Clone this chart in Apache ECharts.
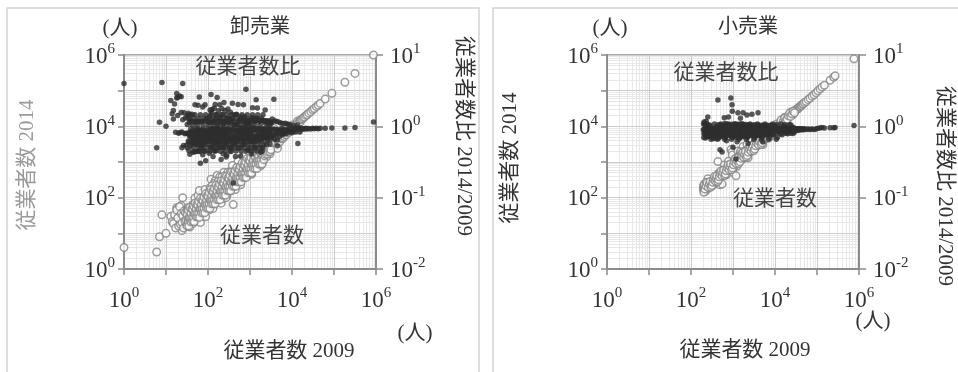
<!DOCTYPE html>
<html>
<head>
<meta charset="utf-8">
<script src="https://cdn.jsdelivr.net/npm/echarts@6/dist/echarts.min.js"></script>
<style>
html,body{margin:0;padding:0;background:#fff;}
#chart{width:958px;height:372px;}
</style>
</head>
<body>
<div id="chart"></div>
<script>
// Employees per establishment group: [2009, 2014]
const wholesale = [
  [1,4],[6,3],[7,8],[8,33],[10,10],[24,12],[25,100],[15,25],[18,52],[19,48],[23,60],[49,98],
  [13,30],[14,21],[15,19],[16,33],[17,14],[18,45],[19,27],[20,16],
  [21,56],[22,18],[23,36],[24,20],[25,31],[26,14],[27,42],[28,22],[29,38],[30,24],[31,17],[32,45],
  [33,26],[34,52],[35,21],[36,30],[37,15],[38,47],[39,29],[40,33],[41,24],[42,62],[43,36],[44,19],
  [45,40],[46,31],[47,27],[48,55],[49,38],[50,22],[36,41],[44,35],
  [51,43],[52,30],[53,61],[54,38],[55,47],[56,25],[57,52],[58,41],[59,33],[60,70],[61,45],[62,28],
  [63,55],[64,48],[65,39],[66,20],[67,58],[68,44],[69,35],[70,82],[72,51],[73,63],[74,40],[75,30],
  [76,68],[78,57],[79,45],[80,95],[81,62],[83,50],[84,38],[85,73],[87,66],[88,29],[90,78],[91,55],
  [93,120],[95,70],[97,60],[99,84],[58,115],[75,140],[62,160],[85,170],
  [101,85],[101,62],[104,120],[104,71],[107,88],[107,45],[110,96],[110,150],[113,79],[113,104],
  [116,58],[116,131],[119,92],[119,74],[122,108],[122,190],[125,86],[125,115],[128,68],[128,102],
  [131,121],[131,95],[135,154],[135,82],[138,110],[138,62],[142,127],[142,98],[146,180],[146,116],
  [150,131],[150,88],[154,70],[154,140],[158,122],[158,230],[162,149],[162,105],[167,128],[167,170],
  [171,96],[171,145],[176,210],[176,133],[181,158],[181,112],[186,140],[186,95],[191,172],[191,255],
  [196,150],[196,118],[202,181],[202,136],[208,240],[208,165],[214,190],[214,110],[220,176],[220,320],
  [226,205],[226,148],[232,184],[232,250],[239,162],[239,121],[246,215],[246,290],[253,198],[253,145],
  [260,236],[260,178],[268,310],[268,210],[276,243],[276,160],[284,220],[284,370],[292,258],[292,185],
  [300,276],[300,204],[310,265],[310,350],
  [118,330],[165,420],[240,520],[132,50],[205,70],[280,110],[148,300],[230,95],[190,380],[270,100],
  [112,190],[140,250],[175,290],[215,380],[255,420],[298,520],[125,215],
  [320,410],[320,205],[330,280],[330,165],[342,300],[342,540],[355,250],[355,420],[368,330],[368,190],
  [381,290],[381,480],[395,350],[395,235],[410,430],[410,265],[425,300],[425,620],[441,392],[441,250],
  [457,480],[457,340],[474,410],[474,700],[491,300],[491,520],[509,440],[509,350],[528,620],[528,260],
  [547,470],[547,400],[567,700],[567,470],[588,380],[588,560],[610,500],[610,830],[632,440],[632,600],
  [656,560],[656,360],[680,790],[680,520],[705,630],[705,450],[731,1000],[731,700],[758,600],[758,430],
  [786,720],[786,960],[815,640],[815,860],[845,720],[845,560],[876,950],[876,760],[908,700],[908,1100],
  [942,850],[942,640],[977,1050],[977,780],
  [800,2650],[400,64],[350,155],[450,170],[600,230],[520,1050],[700,1400],[380,800],[900,420],
  [1010,900],[1010,620],[1050,1300],[1050,820],[1090,990],[1090,700],[1140,1500],[1140,1000],
  [1190,860],[1190,1150],[1240,1450],[1240,750],[1290,1150],[1290,1650],[1350,980],[1350,1250],
  [1410,1700],[1410,880],[1470,1300],[1470,1080],[1530,1950],[1530,1400],[1600,1200],[1600,1050],
  [1670,1530],[1670,2000],[1740,1350],[1740,1600],[1820,2200],[1820,1200],[1900,1700],[1900,1500],
  [1980,2400],[1980,1800],[2070,1500],[2070,1900],[2160,2600],[2160,1650],[2250,2050],[2250,1800],
  [2350,2800],[2350,1700],[2450,2250],[2450,1950],[2560,2950],[2560,1850],[2670,2400],[2670,2150],
  [2790,3200],[2790,2100],[2910,2650],[2910,2300],[3040,3450],[3040,2350],
  [1300,650],[2000,1000],[1500,2700],[2500,1400],[3000,1700],[1100,450],[1800,780],[1400,3300],
  [1150,2100],[2300,3900],
  [3200,3600],[3200,2300],[3400,3000],[3400,4300],[3600,2700],[3600,3300],[3800,4500],[3800,2500],
  [4000,3650],[4000,3100],[4250,5000],[4250,3300],[4500,4050],[4500,2900],[4800,5500],[4800,4000],
  [5100,4500],[5100,3700],[5400,6000],[5400,4800],[5700,4500],[5700,5300],[6100,6700],[6100,4700],
  [6500,5800],[6500,5200],[6900,7600],[6900,5900],[7300,6500],[7300,5800],[7800,8400],[7800,6600],
  [8300,7600],[8300,6900],[8800,9300],[8800,7700],[9400,8500],[9400,7900],[3700,8900],[4500,2400],
  [10000,9300],[10000,8100],[10600,10900],[11300,9800],[12000,11200],[12000,10000],[12800,11900],
  [13600,12600],[13600,14200],[14500,13100],[15500,14300],[15500,12900],[16500,15600],[17600,16100],
  [18800,17400],[20000,18300],[21500,20200],[23000,21100],[25000,23400],[28000,25600],[31000,29100],
  [34000,31500],[38000,35600],[42000,39000],[13800,7900],
  [46800,44000],[61700,58000],[89000,84000],[182000,172000],[316000,305000],[870000,1000000],
  [32,16],[32,34],[34,21],[34,44],[35,16],[35,27],[37,26],[37,54],[39,21],[39,36],[41,27],[41,48],
  [43,22],[43,45],[45,28],[45,59],[47,21],[47,37],[49,34],[49,71],[52,29],[52,48],[54,36],[54,64],
  [57,29],[57,60],[60,37],[60,78],[63,28],[63,49],[66,46],[66,96],[69,38],[69,63],[72,48],[72,85],
  [76,38],[76,80],[80,50],[80,104],[84,38],[84,66],[88,62],[88,128],[92,51],[92,85],[96,64],[96,113],
  [101,51],[101,106],[106,66],[106,138],[111,50],[111,87],[117,82],[117,170],[122,67],[122,112],
  [128,86],[128,151],[134,67],[134,141],[141,87],[141,183],[148,67],[148,115],[155,109],[155,225],
  [162,89],[162,149],[170,114],[170,201],[178,89],[178,187],[187,116],[187,243],[196,88],[196,153],
  [206,144],[206,299],[216,119],[216,199],[226,151],[226,267],[237,119],[237,249],[249,154],[249,324],
  [261,117],[261,204],[274,192],[274,397],[287,158],[287,264],[301,202],[301,355],[316,158],[316,332],
  [331,205],[331,430],[347,156],[347,271],[364,255],[364,528],[382,210],[382,351],[401,269],[401,473],
  [420,210],[420,441],[441,273],[441,573],[462,208],[462,360],[485,340],[485,703],[509,280],[509,468],
  [534,358],[534,630],[560,280],[560,588],[587,364],[587,763],[616,277],[616,480],[646,452],[646,937],
  [678,373],[678,624],[711,476],[711,839],[746,373],[746,783],[782,485],[782,1017],[820,369],[820,640],
  [860,602],[860,1247],[902,496],[902,830],[946,634],[946,1116],[992,496],[992,1042],[1040,645],[1040,1352],
  [1090,491],[1090,850],[1150,805],[1150,1668],[1200,660],[1200,1104],[1260,844],[1260,1487],
  [1320,660],[1320,1386],[1390,862],[1390,1807],[1460,657],[1460,1139],[1530,1071],[1530,2219],
  [1600,880],[1600,1472],[1680,1126],[1680,1982],[1760,880],[1760,1848],[1850,1147],[1850,2405],
  [1940,873],[1940,1513],[2040,1428],[2040,2958],[2140,1177],[2140,1969],[2240,1501],[2240,2643],
  [2350,1645],[2350,2585],[2470,1976],[2470,2964],[2590,1684],[2590,2461],[2720,1904],[2720,2992],
  [2850,2280],[2850,3420],[2990,1944],[2990,2841],[3140,2198],[3140,3454]
];

const retail = [
  [196,175],[199,215],[203,160],[207,190],[211,228],[215,178],[219,150],[224,205],[228,240],[233,196],
  [238,170],[243,222],[248,255],[254,215],[259,188],[265,240],[271,205],[277,290],[283,245],[289,210],
  [296,268],[303,230],[310,282],[317,245],[325,300],[333,262],[341,228],[350,318],[359,300],[368,272],
  [378,340],[388,305],[398,360],[204,235],[251,340],[229,270],
  [405,365],[415,300],[426,410],[437,350],[448,470],[460,395],[472,330],[484,440],[497,520],[510,400],
  [523,480],[537,395],[551,560],[565,470],[580,535],[595,430],[611,640],[627,540],[643,580],[660,480],
  [677,640],[695,560],[713,760],[732,650],[751,560],[771,700],[791,840],[812,680],[833,760],[855,640],
  [877,820],[900,760],[924,990],[948,830],[973,720],[420,385],[455,350],[500,445],[540,500],[590,520],
  [640,700],[700,620],[760,690],[820,700],[880,790],
  [437,1025],[490,230],[550,240],[890,2230],[950,1900],[960,1560],[1000,510],[1180,410],[1310,2030],
  [1740,2700],[2150,3100],[2290,1320],[3950,6100],[5150,3100],[2820,4150],[620,820],[780,1050],
  [1500,1950],[400,270],[700,440],[1250,760],
  [1010,900],[1040,760],[1070,1150],[1100,950],[1130,1040],[1165,820],[1200,1280],[1240,1050],
  [1280,1200],[1320,950],[1360,1450],[1400,1180],[1450,1380],[1500,1080],[1550,1680],[1600,1330],
  [1650,1560],[1700,1210],[1760,1870],[1820,1530],[1880,1790],[1940,1400],[2000,2120],[2070,1760],
  [2140,2010],[2210,1620],[2290,2410],[2370,2000],[2450,2300],[2530,1870],[2620,2740],[2710,2280],
  [2800,2620],[2900,2180],[3000,3120],[3100,2600],[1120,1010],[1580,1250],[1980,1640],[2400,2130],
  [2950,2570],[1300,1240],[1700,1500],[2150,1880],[1050,1000],[1420,1070],
  [3200,2900],[3300,2480],[3400,3580],[3500,3050],[3620,3420],[3740,2780],[3860,4000],[3990,3420],
  [4120,3880],[4260,3190],[4400,4560],[4550,3900],[4700,4400],[4860,3680],[5020,5200],[5190,4460],
  [5360,5000],[5540,4220],[5730,5920],[5920,5100],[6120,5700],[6330,4850],[6540,6750],[6760,5830],
  [6990,6500],[7230,5600],[7470,7700],[7720,6650],[7980,7400],[8250,6400],[8530,8750],[8820,7600],
  [9120,8450],[9430,7350],[9750,9950],[3450,3000],[4700,4150],[6000,5300],[7500,6600],[9000,8000],
  [10100,9000],[10500,9700],[10900,9200],[11300,10400],[11800,10100],[12300,11200],[12800,11800],
  [13300,11500],[13900,13100],[14500,12500],[15100,13900],[15800,14200],[16500,15300],[17200,14800],
  [18000,16800],[18800,16300],[19700,18200],[20600,18000],[21500,20100],[22500,19600],[23600,21800],
  [24700,21500],[25900,24000],[27100,23600],[28400,26300],[29700,25900],[31000,28800],
  [11000,11600],[14000,11000],[17000,17900],[20000,15800],[24000,25100],[27000,21500],
  [32500,29200],[34000,31500],[35600,31000],[37300,34700],[39100,35000],[41000,38000],[43000,38500],
  [45100,41800],[47300,42500],[50200,46300],[55000,49500],[61000,56000],[68000,61500],[76000,70000],
  [85000,77000],[95000,87000],
  [105000,99000],[118000,112000],[131000,126000],[150000,142000],[205000,196000],[250000,238000],
  [270000,260000],[760000,780000],
  [202,141],[214,175],[226,215],[241,260],[256,195],[274,241],[286,286],[299,197],[314,220],[329,270],
  [345,328],[362,391],[381,290],[395,348],[410,410],[432,285],[452,316],[470,385],[492,467],[515,556],
  [545,414],[570,502],[600,600],[632,417],[660,462],[690,566],[725,689],[760,821],[800,608],[840,739],
  [880,880],[925,611],[970,679],[1020,836],[1075,1021],[1135,1226],[1190,904],[1255,1104],[1320,1320],
  [1385,914],[1460,1022],[1535,1259],[1615,1534],[1700,1836],[1790,1360],[1880,1654],[1980,1980],
  [2080,1373],[2190,1533],[2300,1886],[2420,2299],[2550,2754],[2680,2037],[2820,2482],[2970,2970],
  [3120,2059],[3290,2303],[3460,2837],[3640,3458],[3830,4136],[4030,3063],[4240,3731],[4460,4460],
  [4700,3102],[4940,3458],[5200,4264],[5470,5197],[5760,6221],[6060,4606],[6380,5614],[6710,6710],
  [7060,4660],[7430,5201],[7820,6412],[8230,7819],[8660,9353],[9120,6931],[9600,8448],[10100,10100],
  [10700,7062],[11400,7980],[12200,10004],[13000,12350],[13900,15012],[14800,11248],[15800,13904],
  [16900,16900],[18100,14480],[19400,15908],[20700,19665],[22200,23310],[23700,18960],[25400,22352],
  [27200,26384],[29100,24153]
];

// Exponents that carry a label on each axis
const xLabelExps = [0, 2, 4, 6];
const countLabelExps = [0, 2, 4, 6];
const ratioLabelExps = [-2, -1, 0, 1];

const panelTitles = ['卸売業', '小売業'];
const countAxisName = '従業者数 2014';
const ratioAxisName = '従業者数比 2014/2009';
const xAxisName = '従業者数 2009';
const unitText = '(人)';
const ratioSeriesName = '従業者数比';
const countSeriesName = '従業者数';

const FONT = "'Liberation Serif','Noto Sans CJK JP',serif";
const TEXT = '#333333';
const AXIS = '#8c8c8c';
const MAJOR = '#cdcdcd';
const MINOR = '#e8e8e8';

// "10" with a raised exponent
const supRich = {
  b: { fontSize: 23, fontFamily: FONT, color: TEXT, lineHeight: 26, verticalAlign: 'bottom' },
  s: { fontSize: 15, fontFamily: FONT, color: TEXT, lineHeight: 15, verticalAlign: 'top' }
};

function expFormatter(shown) {
  return function (v) {
    const e = Math.round(Math.log10(v));
    return shown.indexOf(e) >= 0 ? '{b|10}{s|' + e + '}' : '';
  };
}

// minor grid positions 2..9 within each decade
const minorSteps = [2, 3, 4, 5, 6, 7, 8, 9];
const decades = [1, 10, 100, 1000, 10000, 100000];
const minorVals = [];
decades.forEach(d => minorSteps.forEach(k => minorVals.push(k * d)));

const layouts = [
  {
    left: 124, box: [7, 8, 472, 380],
    unitTop: [120, 28], title: [260, 28], ratioLbl: [248, 67], countLbl: [262, 236],
    unitBottom: [415, 333], xName: [289, 351], yName: [27, 165], yNameColor: '#9a9a9a', rName: [464, 136]
  },
  {
    left: 607, box: [493, 8, 480, 380],
    unitTop: [610, 28], title: [748, 28], ratioLbl: [726, 73], countLbl: [775, 199],
    unitBottom: [873, 321], xName: [745, 350], yName: [510, 158], yNameColor: TEXT, rName: [945, 186]
  }
];
const datasets = [wholesale, retail];

function txt(text, pos, opt) {
  opt = opt || {};
  const size = opt.size || 21;
  return {
    type: 'text', x: pos[0], y: pos[1], rotation: opt.rot || 0, z: 100,
    style: {
      text: text, fill: opt.color || TEXT, font: size + 'px ' + FONT,
      align: 'center', verticalAlign: 'middle', textAlign: 'center', textVerticalAlign: 'middle'
    }
  };
}

const option = {
  animation: false,
  grid: [], xAxis: [], yAxis: [], series: [], graphic: []
};

layouts.forEach((L, g) => {
  const data = datasets[g];
  option.grid.push({
    left: L.left, top: 55, width: 252, height: 214,
    show: true, borderColor: AXIS, borderWidth: 1.5, backgroundColor: 'rgba(0,0,0,0)'
  });
  option.xAxis.push({
    type: 'log', logBase: 10, gridIndex: g, min: 1, max: 1e6, interval: 1, splitNumber: 6,
    axisLine: { show: true, onZero: false, lineStyle: { color: AXIS, width: 2 } },
    axisTick: { show: true, length: 6, lineStyle: { color: AXIS, width: 1.5 } },
    axisLabel: { margin: 17, formatter: expFormatter(xLabelExps), rich: supRich },
    splitLine: { show: true, lineStyle: { color: MAJOR, width: 1 } }
  });
  option.yAxis.push({
    type: 'log', logBase: 10, gridIndex: g, position: 'left', min: 1, max: 1e6, interval: 1, splitNumber: 6,
    axisLine: { show: true, onZero: false, lineStyle: { color: AXIS, width: 2 } },
    axisTick: { show: true, length: 6, lineStyle: { color: AXIS, width: 1.5 } },
    axisLabel: { margin: 9, formatter: expFormatter(countLabelExps), rich: supRich },
    splitLine: { show: true, lineStyle: { color: MAJOR, width: 1 } }
  });
  option.yAxis.push({
    type: 'log', logBase: 10, gridIndex: g, position: 'right', min: 0.01, max: 10, interval: 1, splitNumber: 3,
    axisLine: { show: true, onZero: false, lineStyle: { color: AXIS, width: 2 } },
    axisTick: { show: true, length: 7, lineStyle: { color: AXIS, width: 1.5 } },
    axisLabel: { margin: 14, formatter: expFormatter(ratioLabelExps), rich: supRich },
    splitLine: { show: false }
  });

  // fine log grid, kept beneath the axes and marks
  option.series.push({
    type: 'scatter', xAxisIndex: g, yAxisIndex: 2 * g, data: [], silent: true, z: -1, zlevel: 0,
    markLine: {
      z: -1, silent: true, symbol: ['none', 'none'], label: { show: false }, animation: false,
      emphasis: { disabled: true },
      lineStyle: { color: MINOR, width: 1, type: 'solid' },
      data: minorVals.map(v => ({ xAxis: v })).concat(minorVals.map(v => ({ yAxis: v })))
    }
  });
  // employees 2014 vs 2009 (open circles, left axis)
  option.series.push({
    type: 'scatter', xAxisIndex: g, yAxisIndex: 2 * g, z: 3, clip: false, silent: true,
    symbol: 'circle', symbolSize: 7.5, large: false,
    itemStyle: { color: '#ffffff', borderColor: '#858585', borderWidth: 1.5 },
    data: data.map(d => [d[0], d[1]])
  });
  // ratio 2014/2009 (filled dots, right axis)
  option.series.push({
    type: 'scatter', xAxisIndex: g, yAxisIndex: 2 * g + 1, z: 4, clip: false, silent: true,
    symbol: 'circle', symbolSize: 5.5, large: false,
    itemStyle: { color: '#2e2e2e' },
    data: data.map(d => [d[0], d[1] / d[0]])
  });

  option.graphic.push({
    type: 'rect', z: -10,
    shape: { x: L.box[0], y: L.box[1], width: L.box[2], height: L.box[3] },
    style: { fill: 'none', stroke: '#d4d4d4', lineWidth: 1.5 }
  });
  option.graphic.push(txt(unitText, L.unitTop));
  option.graphic.push(txt(panelTitles[g], L.title, { size: 20 }));
  option.graphic.push(txt(ratioSeriesName, L.ratioLbl, { color: '#444' }));
  option.graphic.push(txt(countSeriesName, L.countLbl, { color: '#444' }));
  option.graphic.push(txt(unitText, L.unitBottom));
  option.graphic.push(txt(xAxisName, L.xName));
  option.graphic.push(txt(countAxisName, L.yName, { rot: Math.PI / 2, color: L.yNameColor }));
  option.graphic.push(txt(ratioAxisName, L.rName, { rot: -Math.PI / 2 }));
});

const chart = echarts.init(document.getElementById('chart'));
chart.setOption(option);
</script>
</body>
</html>
